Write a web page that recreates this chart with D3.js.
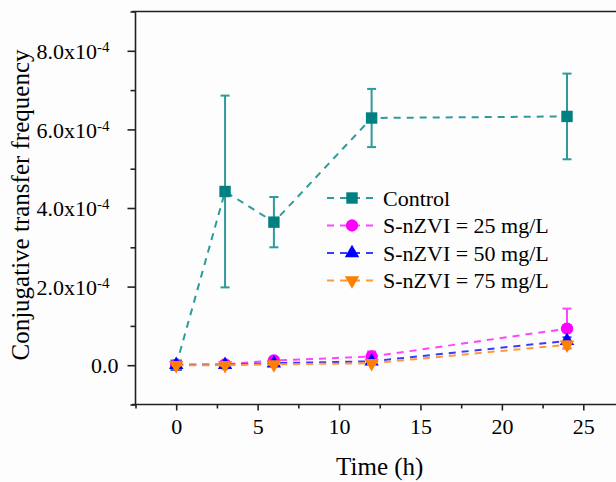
<!DOCTYPE html>
<html>
<head>
<meta charset="utf-8">
<script src="https://cdn.jsdelivr.net/npm/d3@7/dist/d3.min.js"></script>
<style>
  body { margin: 0; background: #fdfdfd; }
</style>
</head>
<body>
<div id="chart"></div>
<script>
// data (values in units of 1e-4)
var times = [0, 3, 6, 12, 24];
var control = [0.0, 4.42, 3.64, 6.29, 6.33];
var controlErr = [0.0, 2.44, 0.64, 0.74, 1.09];
var s25 = [0.01, 0.02, 0.12, 0.22, 0.93];
var s25Err = [0.01, 0.08, 0.04, 0.13, 0.51];
var s50 = [0.01, 0.01, 0.05, 0.10, 0.62];
var s50Err = [0.01, 0.02, 0.02, 0.03, 0.09];
var s75 = [0.0, 0.0, 0.02, 0.05, 0.52];
var s75Err = [0.01, 0.02, 0.02, 0.03, 0.08];
var seriesNames = ["Control", "S-nZVI = 25 mg/L", "S-nZVI = 50 mg/L", "S-nZVI = 75 mg/L"];
var xTicks = [0, 5, 10, 15, 20, 25];
var xMinor = [-2.5, 2.5, 7.5, 12.5, 17.5, 22.5, 27.5];
var yTicks = [0, 2, 4, 6, 8];
var yMinor = [-1, 1, 3, 5, 7, 9];

var font = "'Liberation Serif', 'Times New Roman', serif";
var width = 616, height = 482;
var svg = d3.select("#chart").append("svg").attr("width", width).attr("height", height);

// scales
var x = d3.scaleLinear().domain([-2.5, 27.5]).range([135.5, 624]);
var y = d3.scaleLinear().domain([-1, 9]).range([404.5, 11.5]);

var series = [
    { name: seriesNames[0], vals: control, err: controlErr, mark: d3.symbolSquare, fill: "#008080", line: "#2f9a9a", size: 130 },
    { name: seriesNames[1], vals: s25, err: s25Err, mark: d3.symbolCircle, fill: "#ff00ff", line: "#ff44ff", size: 120 },
    { name: seriesNames[2], vals: s50, err: s50Err, mark: d3.symbolTriangle, fill: "#0000ff", line: "#3a3aff", size: 90 },
    { name: seriesNames[3], vals: s75, err: s75Err, mark: d3.symbolTriangle, fill: "#ff8000", line: "#ff9a3a", size: 90, flip: true }
];

// axes
var xMajor = d3.axisBottom(x).tickValues(xTicks).tickSize(6).tickPadding(8).tickFormat(d3.format("d"));
var xMin = d3.axisBottom(x).tickValues(xMinor).tickSize(4).tickFormat("");
var yMajor = d3.axisLeft(y).tickValues(yTicks).tickSize(8).tickPadding(10).tickFormat("");
var yMin = d3.axisLeft(y).tickValues(yMinor).tickSize(5).tickFormat("");

svg.append("g").attr("transform", "translate(0,404.5)").call(xMin);
var gx = svg.append("g").attr("transform", "translate(0,404.5)").call(xMajor);
svg.append("g").attr("transform", "translate(135.5,0)").call(yMin);
var gy = svg.append("g").attr("transform", "translate(135.5,0)").call(yMajor);

svg.selectAll(".domain").remove();
svg.selectAll(".tick line").attr("stroke", "#222").attr("stroke-width", 1.6);
gx.selectAll("text").style("font-size", "22px").style("font-family", font).attr("fill", "#000");

// y tick labels with superscript exponent
gy.selectAll(".tick").each(function (d) {
    var t = d3.select(this).append("text")
        .attr("x", d === 0 ? -17 : -26)
        .attr("dy", "0.35em")
        .attr("text-anchor", "end")
        .attr("fill", "#000")
        .style("font-family", font)
        .style("font-size", "22px");
    if (d === 0) {
        t.text("0.0");
    } else {
        t.append("tspan").text(d.toFixed(1) + "x10");
        t.append("tspan").attr("dy", "-0.45em").style("font-size", "15px").text("-4");
    }
});

// axis lines (left, bottom, top)
svg.append("line").attr("x1", 135.5).attr("x2", 135.5).attr("y1", 11.5).attr("y2", 405.5)
    .attr("stroke", "#222").attr("stroke-width", 1.6);
svg.append("line").attr("x1", 132).attr("x2", 616).attr("y1", 404.5).attr("y2", 404.5)
    .attr("stroke", "#222").attr("stroke-width", 1.6);
svg.append("line").attr("x1", 132).attr("x2", 616).attr("y1", 11.5).attr("y2", 11.5)
    .attr("stroke", "#222").attr("stroke-width", 1.6);

// axis titles
svg.append("text")
    .attr("x", x(12.5)).attr("y", 475)
    .attr("text-anchor", "middle")
    .style("font-family", font)
    .style("font-size", "25px")
    .text("Time (h)");
svg.append("text")
    .attr("transform", "translate(29," + (y(4) - 3) + ") rotate(-90)")
    .attr("text-anchor", "middle")
    .style("font-family", font)
    .style("font-size", "25px")
    .text("Conjugative transfer frequency");

// series
var line = d3.line().x(function (d) { return x(d[0]); }).y(function (d) { return y(d[1]); });

series.forEach(function (s) {
    var pts = times.map(function (t, i) { return [t, s.vals[i], s.err[i]]; });
    var g = svg.append("g");
    g.append("path")
        .attr("d", line(pts))
        .attr("fill", "none")
        .attr("stroke", s.line)
        .attr("stroke-width", 2)
        .attr("stroke-dasharray", "7,6");
    var eb = g.selectAll(".eb").data(pts.filter(function (d) { return d[2] > 0; })).enter().append("g");
    eb.append("line")
        .attr("x1", function (d) { return x(d[0]); })
        .attr("x2", function (d) { return x(d[0]); })
        .attr("y1", function (d) { return y(d[1] - d[2]); })
        .attr("y2", function (d) { return y(d[1] + d[2]); })
        .attr("stroke", s.line).attr("stroke-width", 2);
    [-1, 1].forEach(function (k) {
        eb.append("line")
            .attr("x1", function (d) { return x(d[0]) - 4.5; })
            .attr("x2", function (d) { return x(d[0]) + 4.5; })
            .attr("y1", function (d) { return y(d[1] + k * d[2]); })
            .attr("y2", function (d) { return y(d[1] + k * d[2]); })
            .attr("stroke", s.line).attr("stroke-width", 2);
    });
    g.selectAll(".pt").data(pts).enter().append("path")
        .attr("d", d3.symbol().type(s.mark).size(s.size))
        .attr("transform", function (d) {
            return "translate(" + x(d[0]) + "," + y(d[1]) + ")" + (s.flip ? " rotate(180)" : "");
        })
        .attr("fill", s.fill);
});

// legend
var legY = [198, 225.5, 253, 280.5];
var leg = svg.append("g");
series.forEach(function (s, i) {
    leg.append("line")
        .attr("x1", 327).attr("x2", 378).attr("y1", legY[i]).attr("y2", legY[i])
        .attr("stroke", s.line).attr("stroke-width", 2).attr("stroke-dasharray", "7,6");
    leg.append("path")
        .attr("d", d3.symbol().type(s.mark).size(s.size))
        .attr("transform", "translate(352," + legY[i] + ")" + (s.flip ? " rotate(180)" : ""))
        .attr("fill", s.fill);
    leg.append("text")
        .attr("x", 383).attr("y", legY[i]).attr("dy", "0.35em")
        .style("font-family", font)
        .style("font-size", "22px")
        .text(s.name);
});
</script>
</body>
</html>
